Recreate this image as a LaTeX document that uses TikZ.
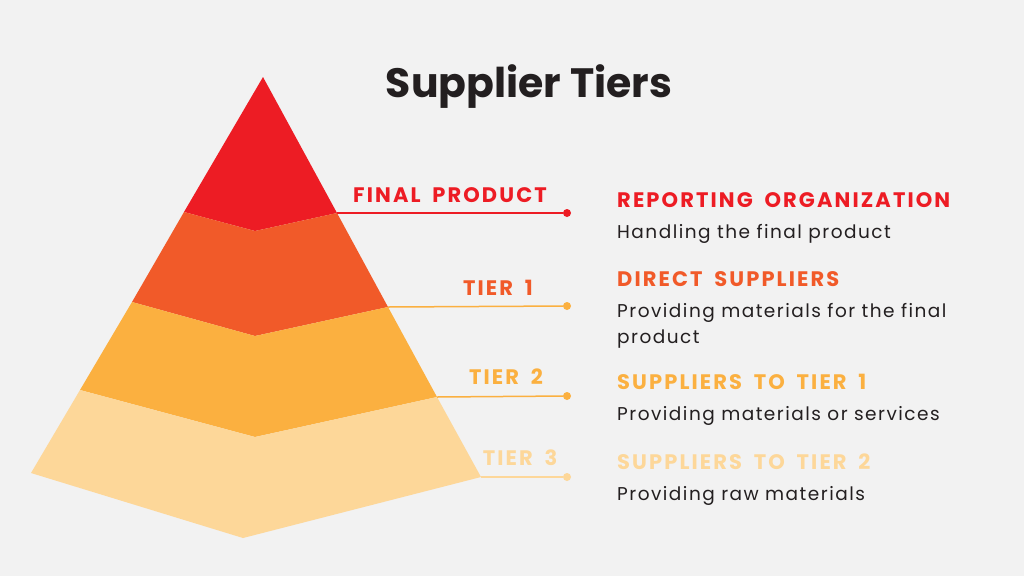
\documentclass[tikz,border=0pt]{standalone}
\usepackage{fontspec}
\setmainfont{Poppins}
\newfontfamily\capsfont{Poppins}[LetterSpace=10.0, WordSpace=1.8]
\newfontfamily\bodyfont{Poppins}[LetterSpace=8.0]
\usetikzlibrary{positioning}
\definecolor{bgray}{HTML}{F2F2F2}
\definecolor{tierred}{HTML}{ED1C24}
\definecolor{tierorange}{HTML}{F15A29}
\definecolor{tieryellow}{HTML}{FBB040}
\definecolor{tierpale}{HTML}{FDD799}
\definecolor{textdark}{HTML}{231F20}

\begin{document}
\begin{tikzpicture}[x=1pt,y=-1pt,
  tierlabel/.style={anchor=base, inner sep=0pt,
    font=\capsfont\bfseries\fontsize{21}{24}\selectfont},
  heading/.style={anchor=base west, inner sep=0pt,
    font=\capsfont\bfseries\fontsize{21}{24}\selectfont},
  body/.style={anchor=base west, inner sep=0pt, text=textdark,
    font=\bodyfont\fontsize{18.5}{26}\selectfont},
  dot/.style={circle, inner sep=0pt, minimum size=8pt},
  link/.style={line width=1.5pt}]
% background and page size
\fill[bgray] (0,0) rectangle (1024,576);
\useasboundingbox (0,0) rectangle (1024,576);
% pyramid corners
\coordinate (apex) at (263,77);
\coordinate (l1) at (184,212); \coordinate (m1) at (255,231); \coordinate (r1) at (337,213);
\coordinate (l2) at (132,302); \coordinate (m2) at (255,336); \coordinate (r2) at (388,307);
\coordinate (l3) at (80,390);  \coordinate (m3) at (255,437); \coordinate (r3) at (437,397);
\coordinate (l4) at (31,473);  \coordinate (m4) at (243,538); \coordinate (r4) at (481,477);
% pyramid layers
\fill[tierred] (apex) -- (r1) -- (m1) -- (l1) -- cycle;
\fill[tierorange] (l1) -- (m1) -- (r1) -- (r2) -- (m2) -- (l2) -- cycle;
\fill[tieryellow] (l2) -- (m2) -- (r2) -- (r3) -- (m3) -- (l3) -- cycle;
\fill[tierpale] (l3) -- (m3) -- (r3) -- (r4) -- (m4) -- (l4) -- cycle;
% title
\node[anchor=base, inner sep=0pt, text=textdark,
  font=\bfseries\fontsize{41}{48}\selectfont] (title) at (529,97) {Supplier Tiers};
% connectors
\node[dot, fill=tierred] (d1) at (567,213) {};
\node[dot, fill=tieryellow] (d2) at (567,306) {};
\node[dot, fill=tieryellow] (d3) at (567,396) {};
\node[dot, fill=tierpale] (d4) at (567,477) {};
\draw[link, tierred] (r1) -- (d1);
\draw[link, tieryellow] (r2) -- (d2);
\draw[link, tieryellow] (r3) -- (d3);
\draw[link, tierpale] (r4) -- (d4);
% tier labels
\node[tierlabel, text=tierred] (final) at (450,202) {FINAL PRODUCT};
\node[tierlabel, text=tierorange] (tier1) at (498,295) {TIER 1};
\node[tierlabel, text=tieryellow] (tier2) at (506,384) {TIER 2};
\node[tierlabel, text=tierpale] (tier3) at (520,465) {TIER 3};
% descriptions
\node[heading, text=tierred] (org) at (617,207) {REPORTING ORGANIZATION};
\node[body] (orgtxt) at (617,238) {Handling the final product};
\node[heading, text=tierorange] (direct) at (617,286) {DIRECT SUPPLIERS};
\node[body] (directtxt) at (617,317) {Providing materials for the final};
\node[body] (directtxt2) at (617,343) {product};
\node[heading, text=tieryellow] (sup1) at (617,389) {SUPPLIERS TO TIER 1};
\node[body] (sup1txt) at (617,420) {Providing materials or services};
\node[heading, text=tierpale] (sup2) at (617,469) {SUPPLIERS TO TIER 2};
\node[body] (sup2txt) at (617,500) {Providing raw materials};
\end{tikzpicture}
\end{document}
